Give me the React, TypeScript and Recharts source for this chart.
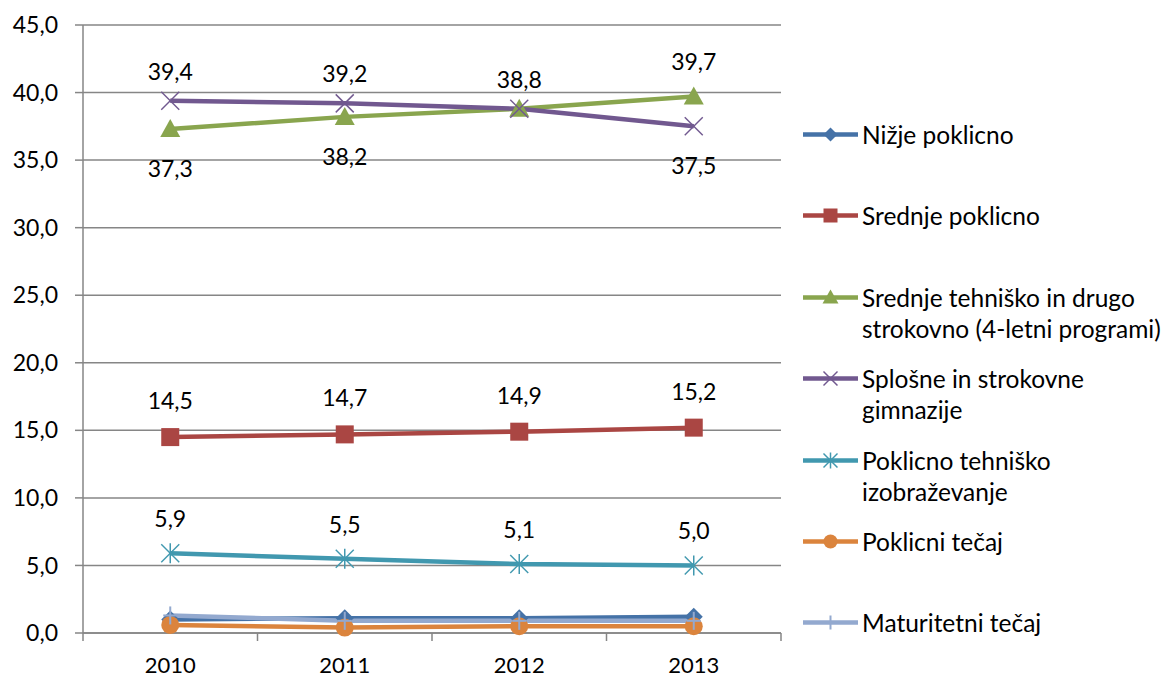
import { LineChart, Line, XAxis, YAxis, CartesianGrid, LabelList } from 'recharts';

const years = ['2010', '2011', '2012', '2013'];
const nizjePoklicno = [1.0, 1.1, 1.1, 1.2];
const srednjePoklicno = [14.5, 14.7, 14.9, 15.2];
const srednjeTehnisko = [37.3, 38.2, 38.8, 39.7];
const splosneGimnazije = [39.4, 39.2, 38.8, 37.5];
const poklicnoTehnisko = [5.9, 5.5, 5.1, 5.0];
const poklicniTecaj = [0.6, 0.4, 0.5, 0.5];
const maturitetniTecaj = [1.3, 0.9, 0.9, 0.9];
const yTicks = [0, 5, 10, 15, 20, 25, 30, 35, 40, 45];

const FONT = 'Lato, "Open Sans", sans-serif';
const GRID = '#868686';

type Shape = 'diamond' | 'square' | 'triangle' | 'x' | 'star' | 'circle' | 'plus';

// label placement per point: 'top', 'bottom' or null
const series = [
  { key: 'nizje', name: ['Nižje poklicno'], values: nizjePoklicno, color: '#4572A7', shape: 'diamond' as Shape, labels: null, up: 27 },
  { key: 'srednje', name: ['Srednje poklicno'], values: srednjePoklicno, color: '#AA4643', shape: 'square' as Shape, labels: ['top', 'top', 'top', 'top'], up: 28 },
  { key: 'tehnisko', name: ['Srednje tehniško in drugo', 'strokovno (4-letni programi)'], values: srednjeTehnisko, color: '#89A54E', shape: 'triangle' as Shape, labels: ['bottom', 'bottom', null, 'top'], up: 27 },
  { key: 'gimnazije', name: ['Splošne in strokovne', 'gimnazije'], values: splosneGimnazije, color: '#71588F', shape: 'x' as Shape, labels: ['top', 'top', 'top', 'bottom'], up: 21 },
  { key: 'poklicnoteh', name: ['Poklicno tehniško', 'izobraževanje'], values: poklicnoTehnisko, color: '#4198AF', shape: 'star' as Shape, labels: ['top', 'top', 'top', 'top'], up: 26 },
  { key: 'poklicni', name: ['Poklicni tečaj'], values: poklicniTecaj, color: '#DB843D', shape: 'circle' as Shape, labels: null, up: 27 },
  { key: 'maturitetni', name: ['Maturitetni tečaj'], values: maturitetniTecaj, color: '#93A9CF', shape: 'plus' as Shape, labels: null, up: 27 },
];

const data = years.map((year, i) => {
  const row: any = { x: i + 0.5, year };
  series.forEach((s) => (row[s.key] = s.values[i]));
  return row;
});

const fmt = (v: number) => v.toFixed(1).replace('.', ',');

function Marker({ shape, cx, cy, color, s = 9 }: { shape: Shape; cx: number; cy: number; color: string; s?: number }) {
  switch (shape) {
    case 'diamond':
      return <polygon points={`${cx},${cy - s} ${cx + s},${cy} ${cx},${cy + s} ${cx - s},${cy}`} fill={color} />;
    case 'square':
      return <rect x={cx - s} y={cy - s} width={s * 2} height={s * 2} fill={color} />;
    case 'triangle':
      return <polygon points={`${cx},${cy - s - 1} ${cx + s + 1},${cy + s - 1} ${cx - s - 1},${cy + s - 1}`} fill={color} />;
    case 'x':
      return (
        <g stroke={color} strokeWidth={1.5}>
          <line x1={cx - s} y1={cy - s} x2={cx + s} y2={cy + s} />
          <line x1={cx - s} y1={cy + s} x2={cx + s} y2={cy - s} />
        </g>
      );
    case 'star':
      return (
        <g stroke={color} strokeWidth={1.5}>
          <line x1={cx - s} y1={cy - s} x2={cx + s} y2={cy + s} />
          <line x1={cx - s} y1={cy + s} x2={cx + s} y2={cy - s} />
          <line x1={cx} y1={cy - s - 1} x2={cx} y2={cy + s + 1} />
        </g>
      );
    case 'circle':
      return <circle cx={cx} cy={cy} r={s} fill={color} />;
    case 'plus':
      return (
        <g stroke={color} strokeWidth={2}>
          <line x1={cx} y1={cy - s} x2={cx} y2={cy + s} />
          <line x1={cx - s + 2} y1={cy} x2={cx + s - 2} y2={cy} />
        </g>
      );
  }
  return null;
}

const makeDot = (shape: Shape, color: string) => (props: any) => (
  <Marker key={props.index} shape={shape} cx={props.cx} cy={props.cy} color={color} />
);

const makeLabel = (placements: (string | null)[], up: number) => (props: any) => {
  const { x, y, value, index } = props;
  const place = placements[index];
  if (!place) return null;
  const ty = place === 'top' ? y - up : y + 48;
  return (
    <text key={index} x={x} y={ty} textAnchor="middle" fontSize={23} fontFamily={FONT} fill="#000">
      {fmt(value)}
    </text>
  );
};

const XTick = (props: any) => {
  const { x, y, payload } = props;
  const v = payload.value;
  if (Number.isInteger(v)) {
    return <line x1={x} y1={y} x2={x} y2={y + 8} stroke={GRID} strokeWidth={1.5} />;
  }
  return (
    <text x={x} y={y + 40} textAnchor="middle" fontSize={22} fontFamily={FONT} fill="#000">
      {years[Math.floor(v)]}
    </text>
  );
};

export default function App() {
  return (
    <div style={{ position: 'absolute', left: 0, top: 0, width: 1172, height: 678, background: '#fff' }}>
      <LineChart width={1172} height={678} data={data} margin={{ top: 25, right: 391, bottom: 0, left: 0 }}>
        <CartesianGrid vertical={false} stroke={GRID} strokeWidth={1.5} />
        <XAxis
          dataKey="x"
          type="number"
          domain={[0, 4]}
          ticks={[0, 0.5, 1, 1.5, 2, 2.5, 3, 3.5, 4]}
          tick={<XTick />}
          tickLine={false}
          tickSize={0}
          tickMargin={0}
          interval={0}
          stroke={GRID}
          strokeWidth={1.5}
          height={45}
        />
        <YAxis
          domain={[0, 45]}
          ticks={yTicks}
          interval={0}
          width={83}
          tickSize={8}
          tickMargin={17}
          tickFormatter={fmt}
          stroke={GRID}
          strokeWidth={1.5}
          tick={{ fill: '#000', fontSize: 23, fontFamily: FONT }}
        />
        {series.map((s) => (
          <Line
            key={s.key}
            dataKey={s.key}
            stroke={s.color}
            strokeWidth={4.5}
            dot={makeDot(s.shape, s.color)}
            activeDot={false}
            isAnimationActive={false}
          >
            {s.labels && <LabelList dataKey={s.key} content={makeLabel(s.labels, s.up)} />}
          </Line>
        ))}
      </LineChart>
      <div style={{ position: 'absolute', left: 800, top: 119, fontFamily: FONT, fontSize: 24.5, color: '#000' }}>
        {series.map((s) => (
          <div key={s.key} style={{ height: 81.4, display: 'flex', alignItems: 'flex-start' }}>
            <svg width={62} height={31} style={{ flex: 'none' }}>
              <line x1={3} y1={15.5} x2={58} y2={15.5} stroke={s.color} strokeWidth={4.5} />
              <Marker shape={s.shape} cx={30.5} cy={15.5} color={s.color} s={7} />
            </svg>
            <div style={{ lineHeight: '31px', whiteSpace: 'nowrap' }}>
              {s.name.map((n) => (
                <div key={n}>{n}</div>
              ))}
            </div>
          </div>
        ))}
      </div>
    </div>
  );
}
